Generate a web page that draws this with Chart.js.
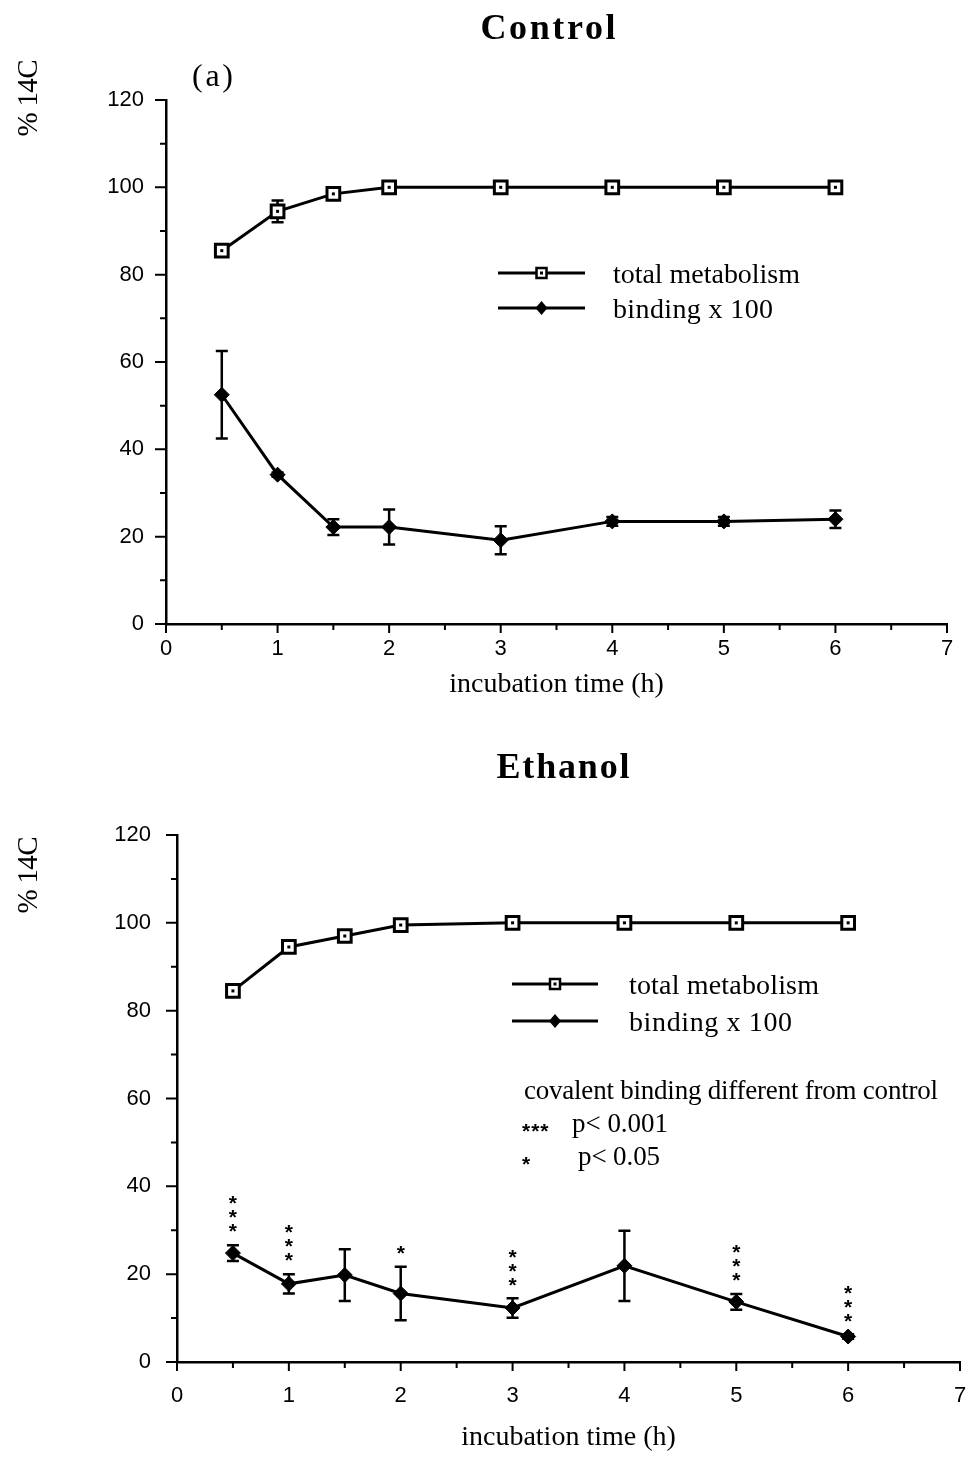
<!DOCTYPE html>
<html>
<head>
<meta charset="utf-8">
<title>Control / Ethanol – % 14C vs incubation time</title>
<script src="https://cdn.jsdelivr.net/npm/chart.js@4.4.1/dist/chart.umd.min.js"></script>
<style>
  html, body { margin: 0; padding: 0; background: #fff; }
  #figure { position: relative; width: 967px; height: 1470px; }
  #figure canvas { position: absolute; left: 0; }
</style>
</head>
<body>
<div id="figure">
  <canvas id="controlChart" width="967" height="735" style="top:0"></canvas>
  <canvas id="ethanolChart" width="967" height="735" style="top:735px"></canvas>
</div>
<script>
// ---- data ----
const times = [0.5, 1, 1.5, 2, 3, 4, 5, 6];
const xTicks = [0, 1, 2, 3, 4, 5, 6, 7];
const yTicks = [0, 20, 40, 60, 80, 100, 120];

const controlTotal = [85.5, 94.5, 98.5, 100, 100, 100, 100, 100];
const controlTotalErr = [0, 2.5, 1, 0, 0, 0, 0, 0];
const controlBinding = [52.5, 34.2, 22.2, 22.2, 19.2, 23.5, 23.5, 24];
const controlBindingErr = [10, 0.5, 1.8, 4, 3.2, 1, 1, 2];

const ethanolTotal = [84.5, 94.5, 97, 99.5, 100, 100, 100, 100];
const ethanolTotalErr = [0, 0, 0, 0, 0, 0, 0, 0];
const ethanolBinding = [24.8, 17.8, 19.8, 15.6, 12.3, 21.9, 13.7, 5.8];
const ethanolBindingErr = [1.8, 2.2, 5.9, 6.1, 2.2, 8, 1.8, 0.5];
const ethanolSignificance = ['***', '***', '', '*', '***', '', '***', '***'];

const seriesLabels = ['total metabolism', 'binding x 100'];
const xTitle = 'incubation time (h)';
const yTitle = '% 14C';

// ---- fonts ----
const SERIF = '"Liberation Serif", "Times New Roman", serif';
const SANS = '"Liberation Sans", Arial, sans-serif';

// text drawn with letter spacing so that it spans the given width
function drawFitted(ctx, text, x, y, width, font) {
  ctx.save();
  ctx.font = font;
  ctx.fillStyle = '#000';
  ctx.textAlign = 'left';
  ctx.textBaseline = 'alphabetic';
  ctx.letterSpacing = '0px';
  const n = [...text].length;
  const w = ctx.measureText(text).width;
  if (width && n > 1) {
    const ls = Math.max(-2, (width - w) / (n - 1));
    ctx.letterSpacing = ls.toFixed(2) + 'px';
  }
  ctx.fillText(text, x, y);
  ctx.restore();
}

function drawMarker(ctx, style, x, y) {
  ctx.save();
  ctx.strokeStyle = '#000';
  if (style === 'rect') {
    ctx.fillStyle = '#fff';
    ctx.lineWidth = 2.5;
    ctx.fillRect(x - 5, y - 5, 10, 10);
    ctx.strokeRect(x - 5, y - 5, 10, 10);
    ctx.fillStyle = '#000';
    ctx.fillRect(x - 1.5, y - 1.5, 3, 3);
  } else {
    ctx.fillStyle = '#000';
    ctx.beginPath();
    ctx.moveTo(x, y - 7); ctx.lineTo(x + 6, y); ctx.lineTo(x, y + 7); ctx.lineTo(x - 6, y);
    ctx.closePath();
    ctx.fill();
  }
  ctx.restore();
}

// a vertical stack of asterisks, the lowest one centred at (cx, bottomCy)
function drawStars(ctx, count, cx, bottomCy, step, size) {
  ctx.save();
  ctx.font = 'bold ' + size + 'px ' + SANS;
  ctx.fillStyle = '#000';
  ctx.textAlign = 'center';
  ctx.textBaseline = 'alphabetic';
  for (let k = 0; k < count; k++) {
    const cy = bottomCy - k * step;
    ctx.fillText('*', cx, cy + size * 0.58);
  }
  ctx.restore();
}

// error bars, centre dots, significance stars, tick marks, headings and legend
const figureDecor = {
  id: 'figureDecor',
  beforeDatasetsDraw(chart) {
    const ctx = chart.ctx;
    const ys = chart.scales.y, xs = chart.scales.x;
    chart.data.datasets.forEach(ds => {
      if (!ds.errorBars) return;
      ctx.save();
      ctx.strokeStyle = '#000';
      ctx.lineWidth = 2.5;
      ds.data.forEach((p, i) => {
        const e = ds.errorBars[i];
        if (!e) return;
        const x = xs.getPixelForValue(p.x);
        const yt = ys.getPixelForValue(p.y + e);
        const yb = ys.getPixelForValue(p.y - e);
        ctx.beginPath();
        ctx.moveTo(x, yt); ctx.lineTo(x, yb);
        ctx.moveTo(x - 6, yt); ctx.lineTo(x + 6, yt);
        ctx.moveTo(x - 6, yb); ctx.lineTo(x + 6, yb);
        ctx.stroke();
      });
      ctx.restore();
    });
  },
  afterDatasetsDraw(chart) {
    const ctx = chart.ctx;
    const ys = chart.scales.y, xs = chart.scales.x;
    chart.data.datasets.forEach((ds, di) => {
      const meta = chart.getDatasetMeta(di);
      if (ds.pointStyle === 'rect') {
        ctx.save();
        ctx.fillStyle = '#000';
        meta.data.forEach(pt => ctx.fillRect(pt.x - 1.5, pt.y - 1.5, 3, 3));
        ctx.restore();
      }
      if (ds.significance) {
        ds.data.forEach((p, i) => {
          const s = ds.significance[i];
          if (!s) return;
          const top = ys.getPixelForValue(p.y + (ds.errorBars ? ds.errorBars[i] : 0));
          drawStars(ctx, s.length, xs.getPixelForValue(p.x), top - 19, 14, 21);
        });
      }
    });
  },
  afterDraw(chart, args, opts) {
    const ctx = chart.ctx;
    const xs = chart.scales.x, ys = chart.scales.y;
    const area = chart.chartArea;

    // tick marks (major + minor), pointing outward
    ctx.save();
    ctx.strokeStyle = '#000';
    ctx.lineWidth = 2;
    ctx.beginPath();
    for (let i = 0; i < xTicks.length; i++) {
      const px = xs.getPixelForValue(xTicks[i]);
      ctx.moveTo(px, area.bottom); ctx.lineTo(px, area.bottom + 9);
      if (i < xTicks.length - 1) {
        const mx = xs.getPixelForValue((xTicks[i] + xTicks[i + 1]) / 2);
        ctx.moveTo(mx, area.bottom); ctx.lineTo(mx, area.bottom + 6);
      }
    }
    for (let i = 0; i < yTicks.length; i++) {
      const py = ys.getPixelForValue(yTicks[i]);
      ctx.moveTo(area.left, py); ctx.lineTo(area.left - 11, py);
      if (i < yTicks.length - 1) {
        const my = ys.getPixelForValue((yTicks[i] + yTicks[i + 1]) / 2);
        ctx.moveTo(area.left, my); ctx.lineTo(area.left - 6, my);
      }
    }
    ctx.stroke();
    ctx.restore();

    // heading
    const h = opts.heading;
    drawFitted(ctx, h.text, h.cx - h.width / 2, h.y, h.width, 'bold 36px ' + SERIF);

    // panel tag
    if (opts.tag) {
      const t = opts.tag;
      drawFitted(ctx, t.text, t.x, t.y, t.width, '32px ' + SERIF);
    }

    // y-axis label, rotated
    const yl = opts.yLabel;
    ctx.save();
    ctx.translate(yl.x, yl.cy);
    ctx.rotate(-Math.PI / 2);
    drawFitted(ctx, yTitle, -yl.width / 2, 0, yl.width, '29px ' + SERIF);
    ctx.restore();

    // legend
    const lg = opts.legend;
    chart.data.datasets.forEach((ds, i) => {
      const y = lg.rows[i];
      ctx.save();
      ctx.strokeStyle = '#000';
      ctx.lineWidth = 3;
      ctx.beginPath();
      ctx.moveTo(lg.x1, y); ctx.lineTo(lg.x2, y);
      ctx.stroke();
      ctx.restore();
      drawMarker(ctx, ds.pointStyle, (lg.x1 + lg.x2) / 2, y);
      drawFitted(ctx, ds.label, lg.textX, y + lg.shift, lg.widths[i], '28px ' + SERIF);
    });

    // notes
    (opts.notes || []).forEach(n => {
      if (n.stars) {
        ctx.save();
        ctx.font = 'bold 21px ' + SANS;
        ctx.fillStyle = '#000';
        ctx.textAlign = 'left';
        ctx.textBaseline = 'alphabetic';
        ctx.letterSpacing = '1px';
        ctx.fillText(n.text, n.x, n.y);
        ctx.restore();
      } else {
        drawFitted(ctx, n.text, n.x, n.y, n.width, '27px ' + SERIF);
      }
    });
  }
};
Chart.register(figureDecor);

function points(values) {
  return times.map((t, i) => ({ x: t, y: values[i] }));
}

// invisible grid ticks only reserve the gap between axis line and labels
function gapGrid(len) {
  return { display: true, drawOnChartArea: false, drawTicks: true, tickLength: len, color: 'rgba(0,0,0,0)' };
}

function makeChart(canvasId, total, totalErr, binding, bindingErr, significance, layout, decor) {
  return new Chart(document.getElementById(canvasId), {
    type: 'line',
    data: {
      datasets: [
        {
          label: seriesLabels[0],
          data: points(total),
          errorBars: totalErr,
          borderColor: '#000',
          borderWidth: 3,
          pointStyle: 'rect',
          pointRadius: 9,
          pointBorderWidth: 3,
          pointBackgroundColor: '#fff',
          pointBorderColor: '#000',
          tension: 0
        },
        {
          label: seriesLabels[1],
          data: points(binding),
          errorBars: bindingErr,
          significance: significance,
          borderColor: '#000',
          borderWidth: 3,
          pointStyle: 'rectRot',
          pointRadius: 7.5,
          pointBorderWidth: 1,
          pointBackgroundColor: '#000',
          pointBorderColor: '#000',
          tension: 0
        }
      ]
    },
    options: {
      responsive: false,
      animation: false,
      devicePixelRatio: 1,
      events: [],
      layout: { autoPadding: false, padding: { top: layout.top, right: layout.right, bottom: 0, left: 0 } },
      plugins: {
        legend: { display: false },
        tooltip: { enabled: false },
        title: { display: false },
        figureDecor: decor
      },
      scales: {
        x: {
          type: 'linear',
          min: 0, max: 7,
          afterBuildTicks: s => { s.ticks = xTicks.map(v => ({ value: v })); },
          afterFit: s => { s.height = layout.xHeight; s.paddingLeft = 0; s.paddingRight = 0; },
          grid: gapGrid(layout.xLabelGap),
          border: { display: true, color: '#000', width: 2.5 },
          ticks: { color: '#000', padding: 0, font: { family: SANS, size: 22 }, maxRotation: 0 },
          title: {
            display: true, text: xTitle, color: '#000',
            font: { family: SERIF, size: 28 },
            padding: { top: 0, bottom: layout.xTitlePad }
          }
        },
        y: {
          type: 'linear',
          min: 0, max: 120,
          afterBuildTicks: s => { s.ticks = yTicks.map(v => ({ value: v })); },
          afterFit: s => { s.width = layout.left; },
          grid: gapGrid(layout.yLabelGap),
          border: { display: true, color: '#000', width: 2.5 },
          ticks: { color: '#000', padding: 0, font: { family: SANS, size: 22 } }
        }
      }
    }
  });
}

makeChart('controlChart', controlTotal, controlTotalErr, controlBinding, controlBindingErr, null,
  { top: 100, right: 20, left: 166, xHeight: 111, xLabelGap: 12, yLabelGap: 22, xTitlePad: 34 },
  {
    heading: { text: 'Control', cx: 548, y: 39, width: 135 },
    tag: { text: '(a)', x: 192, y: 86, width: 41 },
    yLabel: { x: 37, cy: 98, width: 77 },
    legend: { x1: 498, x2: 585, rows: [273, 308], textX: 613, shift: 10, widths: [187, 160] }
  });

makeChart('ethanolChart', ethanolTotal, ethanolTotalErr, ethanolBinding, ethanolBindingErr, ethanolSignificance,
  { top: 100, right: 7, left: 177, xHeight: 108, xLabelGap: 21, yLabelGap: 26, xTitlePad: 16 },
  {
    heading: { text: 'Ethanol', cx: 563, y: 43, width: 133 },
    yLabel: { x: 37, cy: 140, width: 77 },
    legend: { x1: 512, x2: 598, rows: [249, 286], textX: 629, shift: 10, widths: [190, 163] },
    notes: [
      { text: 'covalent binding different from control', x: 524, y: 364, width: 414 },
      { text: '***', x: 522, y: 403, stars: true },
      { text: 'p< 0.001', x: 572, y: 397, width: 96 },
      { text: '*', x: 522, y: 436, stars: true },
      { text: 'p< 0.05', x: 578, y: 430, width: 82 }
    ]
  });
</script>
</body>
</html>
